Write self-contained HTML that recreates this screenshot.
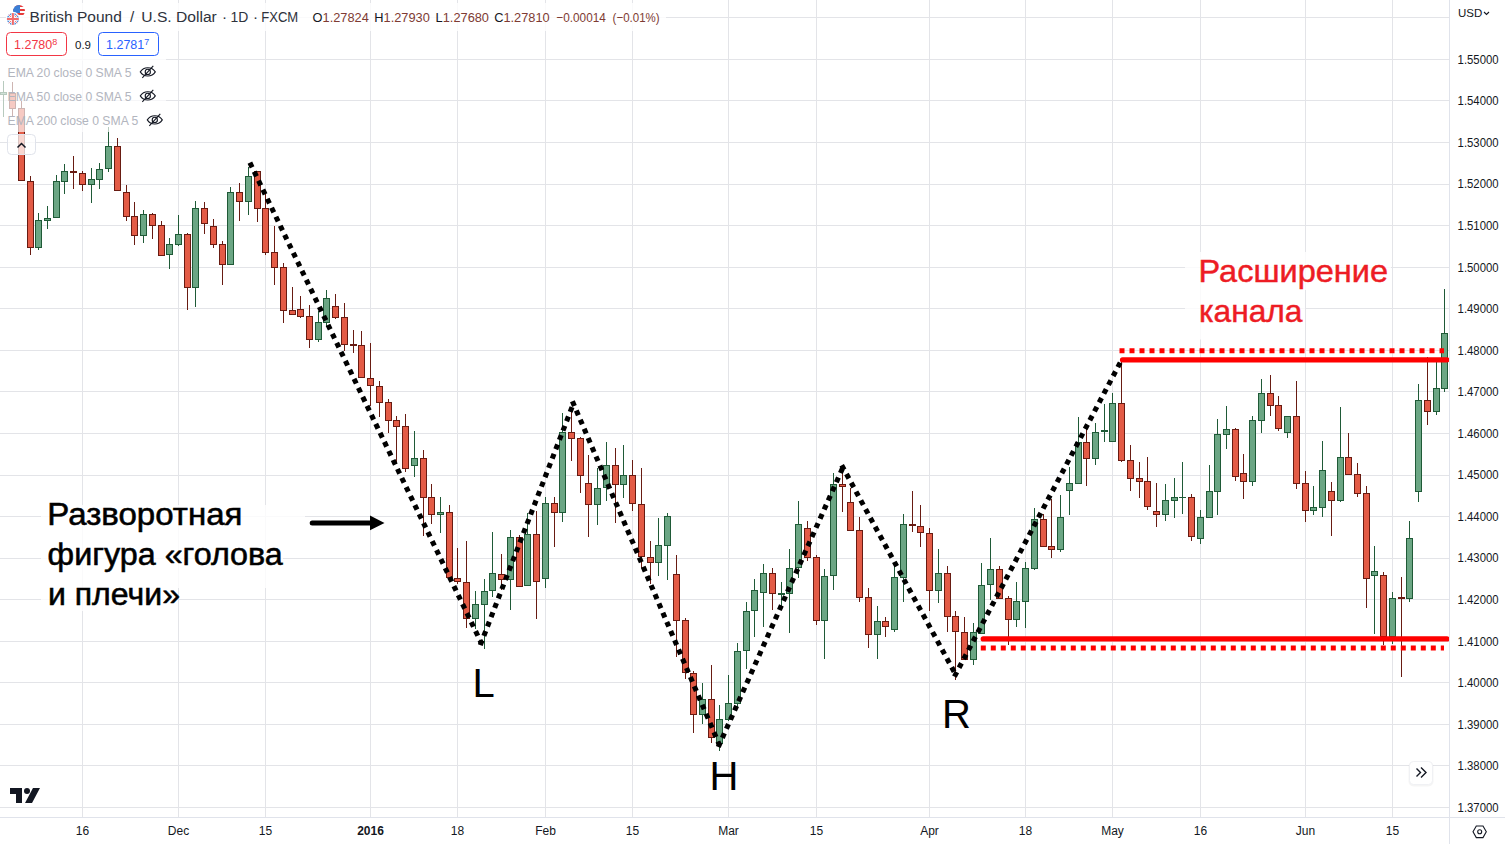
<!DOCTYPE html>
<html><head><meta charset="utf-8">
<style>
html,body{margin:0;padding:0;background:#fff;}
body{width:1505px;height:844px;overflow:hidden;position:relative;font-family:"Liberation Sans",sans-serif;}
svg{position:absolute;left:0;top:0;}
.t{position:absolute;white-space:nowrap;line-height:1;}
</style></head><body>
<svg width="1505" height="844" viewBox="0 0 1505 844" shape-rendering="auto">
<path d="M82.5 0V817.0 M178.5 0V817.0 M265.5 0V817.0 M370.5 0V817.0 M457.5 0V817.0 M545.5 0V817.0 M632.5 0V817.0 M728.5 0V817.0 M816.5 0V817.0 M929.5 0V817.0 M1025.5 0V817.0 M1112.5 0V817.0 M1200.5 0V817.0 M1305.5 0V817.0 M1392.5 0V817.0 M0 17.5H1449.0 M0 59.5H1449.0 M0 100.5H1449.0 M0 142.5H1449.0 M0 184.5H1449.0 M0 225.5H1449.0 M0 267.5H1449.0 M0 308.5H1449.0 M0 350.5H1449.0 M0 391.5H1449.0 M0 433.5H1449.0 M0 475.5H1449.0 M0 516.5H1449.0 M0 558.5H1449.0 M0 599.5H1449.0 M0 641.5H1449.0 M0 682.5H1449.0 M0 724.5H1449.0 M0 765.5H1449.0 M0 807.5H1449.0" stroke="#e3e4e8" stroke-width="1" fill="none"/>
<path d="M3.5 81V117 M38.5 213V250 M47.5 206V229 M56.5 175V218 M64.5 164V194 M91.5 168V203 M99.5 163V189 M108.5 127V172 M143.5 210V243 M169.5 238V269 M178.5 215V246 M195.5 201V307 M230.5 187V265 M248.5 167V215 M318.5 311V342 M326.5 290V327 M414.5 431V477 M440.5 497V533 M475.5 591V629 M484.5 579V649 M492.5 532V597 M510.5 530V610 M527.5 513V586 M545.5 497V588 M562.5 413V522 M597.5 468V525 M606.5 442V501 M623.5 445V498 M658.5 518V576 M667.5 513V580 M702.5 683V724 M719.5 705V751 M728.5 675V721 M737.5 643V709 M746.5 602V669 M754.5 579V637 M763.5 564V627 M781.5 582V606 M789.5 549V633 M798.5 501V578 M824.5 569V659 M833.5 473V590 M877.5 606V659 M894.5 565V632 M903.5 514V602 M938.5 549V603 M973.5 623V665 M981.5 563V634 M990.5 538V600 M1016.5 582V627 M1025.5 562V628 M1034.5 508V570 M1060.5 495V552 M1069.5 467V515 M1078.5 417V484 M1095.5 423V465 M1104.5 404V442 M1112.5 393V442 M1165.5 484V521 M1174.5 478V518 M1182.5 462V514 M1200.5 510V544 M1209.5 465V518 M1217.5 419V515 M1226.5 406V449 M1252.5 416V486 M1261.5 379V433 M1287.5 416V438 M1313.5 486V515 M1322.5 441V517 M1340.5 407V502 M1374.5 546V634 M1392.5 592V644 M1409.5 521V602 M1418.5 384V502 M1436.5 361V415 M1444.5 289V392" stroke="#1f5a37" stroke-width="1" fill="none"/>
<path d="M12.5 82V116 M21.5 101V181 M30.5 176V255 M73.5 156V189 M82.5 171V191 M117.5 138V191 M126.5 185V221 M134.5 202V245 M152.5 213V239 M161.5 221V256 M187.5 233V310 M204.5 202V234 M213.5 219V248 M222.5 241V285 M239.5 183V221 M257.5 171V222 M265.5 192V255 M274.5 226V285 M283.5 263V323 M292.5 287V315 M300.5 296V318 M309.5 305V348 M335.5 294V319 M344.5 303V351 M353.5 330V353 M361.5 331V378 M370.5 343V406 M379.5 381V417 M388.5 399V433 M396.5 416V462 M405.5 414V472 M423.5 450V536 M431.5 484V524 M449.5 505V578 M457.5 548V584 M466.5 541V628 M501.5 554V590 M519.5 535V587 M536.5 511V619 M554.5 497V547 M571.5 407V461 M580.5 437V493 M588.5 455V537 M615.5 448V523 M632.5 460V511 M641.5 468V568 M650.5 541V584 M676.5 555V657 M685.5 618V679 M693.5 671V733 M711.5 665V743 M772.5 568V610 M807.5 521V561 M816.5 555V625 M842.5 471V512 M850.5 488V531 M859.5 517V602 M868.5 588V648 M885.5 617V637 M912.5 491V532 M920.5 505V547 M929.5 528V611 M947.5 566V632 M955.5 611V680 M964.5 617V660 M999.5 566V599 M1008.5 596V645 M1043.5 514V547 M1051.5 499V558 M1086.5 424V486 M1121.5 360V462 M1130.5 445V491 M1139.5 462V498 M1147.5 457V510 M1156.5 483V527 M1191.5 494V541 M1235.5 428V481 M1243.5 454V499 M1270.5 375V416 M1278.5 396V431 M1296.5 381V489 M1305.5 471V522 M1331.5 482V536 M1348.5 433V475 M1357.5 463V497 M1366.5 486V608 M1383.5 572V645 M1401.5 577V677 M1427.5 357V425" stroke="#681b12" stroke-width="1" fill="none"/>
<g fill="#6ba684" stroke="#1f5a37" stroke-width="1"><rect x="0.5" y="92.5" width="6" height="2"/><rect x="35.5" y="220.5" width="6" height="27"/><rect x="44.5" y="218.5" width="6" height="2"/><rect x="53.5" y="181.5" width="6" height="36"/><rect x="61.5" y="171.5" width="6" height="10"/><rect x="88.5" y="179.5" width="6" height="5"/><rect x="96.5" y="169.5" width="6" height="10"/><rect x="105.5" y="146.5" width="6" height="22"/><rect x="140.5" y="214.5" width="6" height="21"/><rect x="166.5" y="244.5" width="6" height="10"/><rect x="175.5" y="234.5" width="6" height="10"/><rect x="192.5" y="208.5" width="6" height="79"/><rect x="227.5" y="192.5" width="6" height="72"/><rect x="245.5" y="176.5" width="6" height="25"/><rect x="315.5" y="322.5" width="6" height="17"/><rect x="323.5" y="298.5" width="6" height="24"/><rect x="411.5" y="458.5" width="6" height="7"/><rect x="437.5" y="512.5" width="6" height="2"/><rect x="472.5" y="604.5" width="6" height="14"/><rect x="481.5" y="591.5" width="6" height="13"/><rect x="489.5" y="573.5" width="6" height="17"/><rect x="507.5" y="537.5" width="6" height="42"/><rect x="524.5" y="534.5" width="6" height="51"/><rect x="542.5" y="503.5" width="6" height="75"/><rect x="559.5" y="432.5" width="6" height="80"/><rect x="594.5" y="488.5" width="6" height="16"/><rect x="603.5" y="465.5" width="6" height="22"/><rect x="620.5" y="475.5" width="6" height="9"/><rect x="655.5" y="545.5" width="6" height="17"/><rect x="664.5" y="516.5" width="6" height="29"/><rect x="699.5" y="699.5" width="6" height="15"/><rect x="716.5" y="719.5" width="6" height="24"/><rect x="725.5" y="703.5" width="6" height="16"/><rect x="734.5" y="651.5" width="6" height="52"/><rect x="743.5" y="611.5" width="6" height="39"/><rect x="751.5" y="590.5" width="6" height="20"/><rect x="760.5" y="573.5" width="6" height="19"/><rect x="786.5" y="568.5" width="6" height="25"/><rect x="795.5" y="524.5" width="6" height="43"/><rect x="821.5" y="576.5" width="6" height="44"/><rect x="830.5" y="484.5" width="6" height="91"/><rect x="874.5" y="621.5" width="6" height="13"/><rect x="891.5" y="577.5" width="6" height="52"/><rect x="900.5" y="524.5" width="6" height="53"/><rect x="935.5" y="573.5" width="6" height="17"/><rect x="970.5" y="632.5" width="6" height="27"/><rect x="978.5" y="585.5" width="6" height="48"/><rect x="987.5" y="569.5" width="6" height="15"/><rect x="1013.5" y="601.5" width="6" height="18"/><rect x="1022.5" y="568.5" width="6" height="33"/><rect x="1031.5" y="519.5" width="6" height="49"/><rect x="1057.5" y="517.5" width="6" height="32"/><rect x="1066.5" y="483.5" width="6" height="7"/><rect x="1075.5" y="442.5" width="6" height="41"/><rect x="1092.5" y="432.5" width="6" height="26"/><rect x="1109.5" y="403.5" width="6" height="38"/><rect x="1162.5" y="500.5" width="6" height="14"/><rect x="1171.5" y="497.5" width="6" height="3"/><rect x="1197.5" y="517.5" width="6" height="21"/><rect x="1206.5" y="491.5" width="6" height="26"/><rect x="1214.5" y="434.5" width="6" height="57"/><rect x="1223.5" y="429.5" width="6" height="5"/><rect x="1249.5" y="420.5" width="6" height="61"/><rect x="1258.5" y="393.5" width="6" height="27"/><rect x="1284.5" y="416.5" width="6" height="16"/><rect x="1310.5" y="507.5" width="6" height="3"/><rect x="1319.5" y="470.5" width="6" height="37"/><rect x="1337.5" y="457.5" width="6" height="43"/><rect x="1371.5" y="571.5" width="6" height="4"/><rect x="1389.5" y="598.5" width="6" height="38"/><rect x="1406.5" y="538.5" width="6" height="60"/><rect x="1415.5" y="400.5" width="6" height="91"/><rect x="1433.5" y="388.5" width="6" height="23"/><rect x="1441.5" y="333.5" width="6" height="55"/></g>
<g fill="#1f5a37"><rect x="778" y="593" width="7" height="2"/><rect x="1101" y="430" width="7" height="2"/><rect x="1179" y="497" width="7" height="1"/></g>
<g fill="#e35b46" stroke="#681b12" stroke-width="1"><rect x="9.5" y="93.5" width="6" height="15"/><rect x="18.5" y="108.5" width="6" height="72"/><rect x="27.5" y="181.5" width="6" height="66"/><rect x="79.5" y="173.5" width="6" height="11"/><rect x="114.5" y="146.5" width="6" height="44"/><rect x="123.5" y="192.5" width="6" height="24"/><rect x="131.5" y="216.5" width="6" height="19"/><rect x="149.5" y="214.5" width="6" height="11"/><rect x="158.5" y="225.5" width="6" height="30"/><rect x="184.5" y="234.5" width="6" height="53"/><rect x="201.5" y="208.5" width="6" height="15"/><rect x="210.5" y="226.5" width="6" height="18"/><rect x="219.5" y="244.5" width="6" height="20"/><rect x="236.5" y="192.5" width="6" height="9"/><rect x="254.5" y="171.5" width="6" height="37"/><rect x="262.5" y="208.5" width="6" height="44"/><rect x="271.5" y="252.5" width="6" height="15"/><rect x="280.5" y="267.5" width="6" height="43"/><rect x="289.5" y="310.5" width="6" height="4"/><rect x="297.5" y="309.5" width="6" height="7"/><rect x="306.5" y="316.5" width="6" height="23"/><rect x="332.5" y="306.5" width="6" height="11"/><rect x="341.5" y="317.5" width="6" height="27"/><rect x="358.5" y="345.5" width="6" height="32"/><rect x="367.5" y="378.5" width="6" height="7"/><rect x="376.5" y="386.5" width="6" height="16"/><rect x="385.5" y="402.5" width="6" height="18"/><rect x="393.5" y="420.5" width="6" height="6"/><rect x="402.5" y="426.5" width="6" height="42"/><rect x="420.5" y="458.5" width="6" height="39"/><rect x="428.5" y="497.5" width="6" height="17"/><rect x="446.5" y="512.5" width="6" height="65"/><rect x="454.5" y="578.5" width="6" height="3"/><rect x="463.5" y="582.5" width="6" height="36"/><rect x="498.5" y="574.5" width="6" height="5"/><rect x="516.5" y="537.5" width="6" height="49"/><rect x="533.5" y="534.5" width="6" height="47"/><rect x="551.5" y="503.5" width="6" height="9"/><rect x="568.5" y="432.5" width="6" height="6"/><rect x="577.5" y="438.5" width="6" height="37"/><rect x="585.5" y="483.5" width="6" height="21"/><rect x="612.5" y="465.5" width="6" height="19"/><rect x="629.5" y="475.5" width="6" height="28"/><rect x="638.5" y="504.5" width="6" height="52"/><rect x="647.5" y="557.5" width="6" height="5"/><rect x="673.5" y="574.5" width="6" height="46"/><rect x="682.5" y="620.5" width="6" height="52"/><rect x="690.5" y="673.5" width="6" height="41"/><rect x="708.5" y="699.5" width="6" height="38"/><rect x="769.5" y="573.5" width="6" height="20"/><rect x="804.5" y="528.5" width="6" height="29"/><rect x="813.5" y="557.5" width="6" height="63"/><rect x="839.5" y="484.5" width="6" height="2"/><rect x="847.5" y="502.5" width="6" height="28"/><rect x="856.5" y="530.5" width="6" height="67"/><rect x="865.5" y="597.5" width="6" height="37"/><rect x="882.5" y="621.5" width="6" height="5"/><rect x="917.5" y="526.5" width="6" height="6"/><rect x="926.5" y="533.5" width="6" height="57"/><rect x="944.5" y="573.5" width="6" height="43"/><rect x="952.5" y="616.5" width="6" height="15"/><rect x="961.5" y="632.5" width="6" height="27"/><rect x="996.5" y="569.5" width="6" height="29"/><rect x="1005.5" y="598.5" width="6" height="21"/><rect x="1040.5" y="519.5" width="6" height="27"/><rect x="1048.5" y="546.5" width="6" height="3"/><rect x="1083.5" y="442.5" width="6" height="16"/><rect x="1118.5" y="403.5" width="6" height="57"/><rect x="1127.5" y="460.5" width="6" height="18"/><rect x="1136.5" y="478.5" width="6" height="3"/><rect x="1144.5" y="481.5" width="6" height="25"/><rect x="1153.5" y="511.5" width="6" height="3"/><rect x="1188.5" y="497.5" width="6" height="39"/><rect x="1232.5" y="429.5" width="6" height="47"/><rect x="1240.5" y="473.5" width="6" height="8"/><rect x="1267.5" y="393.5" width="6" height="12"/><rect x="1275.5" y="405.5" width="6" height="23"/><rect x="1293.5" y="416.5" width="6" height="67"/><rect x="1302.5" y="483.5" width="6" height="27"/><rect x="1328.5" y="491.5" width="6" height="9"/><rect x="1345.5" y="457.5" width="6" height="17"/><rect x="1354.5" y="474.5" width="6" height="19"/><rect x="1363.5" y="493.5" width="6" height="85"/><rect x="1380.5" y="575.5" width="6" height="61"/><rect x="1424.5" y="400.5" width="6" height="11"/></g>
<g fill="#681b12"><rect x="70" y="171" width="7" height="2"/><rect x="350" y="344" width="7" height="2"/><rect x="909" y="524" width="7" height="2"/><rect x="1398" y="597" width="7" height="2"/></g>
<rect x="0" y="61" width="166" height="71" fill="#ffffff" fill-opacity="0.68"/>
<rect x="7.5" y="134.5" width="28" height="20" rx="4" fill="#ffffff" fill-opacity="0.75" stroke="#e0e3eb"/>
<path d="M17.5 147.5 L21.5 143.5 L25.5 147.5" stroke="#131722" stroke-width="1.5" fill="none"/>
<g stroke="#000" stroke-width="5.1" stroke-dasharray="5.1 4.9" fill="none"><line x1="249.89" y1="162.70" x2="481.2" y2="642.8"/><line x1="480.28" y1="645.18" x2="573.4" y2="403.6"/><line x1="572.40" y1="401.26" x2="719.3" y2="744.7"/><line x1="718.26" y1="747.03" x2="842.9" y2="467.5"/><line x1="841.68" y1="465.26" x2="955.6" y2="674.4"/><line x1="954.41" y1="676.65" x2="1121.4" y2="360.4"/></g>
<g stroke="#ff0000" fill="none"><line x1="1119.5" y1="350.8" x2="1444" y2="350.8" stroke-width="5" stroke-dasharray="5 5"/><line x1="980.8" y1="648" x2="1444" y2="648" stroke-width="5" stroke-dasharray="5 5"/><line x1="1122.5" y1="359.8" x2="1447" y2="359.8" stroke-width="5.2" stroke-linecap="round"/><line x1="983.2" y1="638.9" x2="1447" y2="638.9" stroke-width="5.2" stroke-linecap="round"/></g>
<g fill="#fff" fill-opacity="0.8"><path d="M41 505H305V545H283V588H176V611H41Z"/><path d="M1185 252H1391V290H1305V339.5H1185Z"/></g>
<rect x="6" y="3" width="660" height="28" fill="#fff" fill-opacity="0.8"/>
<rect x="0" y="31" width="166" height="30" fill="#fff" fill-opacity="0.8"/>
<defs><clipPath id="us"><circle cx="19" cy="11" r="6"/></clipPath><clipPath id="uk"><circle cx="12.9" cy="19" r="6"/></clipPath></defs>
<g clip-path="url(#us)"><rect x="12" y="4" width="14" height="14" fill="#fff"/><path d="M12 6H26M12 10H26M12 14H26" stroke="#e63a3a" stroke-width="2"/><rect x="12" y="4" width="8" height="9" fill="#3b7fd6"/></g>
<circle cx="12.9" cy="19" r="7.2" fill="#fff"/>
<g clip-path="url(#uk)"><rect x="6" y="12" width="14" height="14" fill="#3b7fd6"/><path d="M6 12L20 26M20 12L6 26" stroke="#fff" stroke-width="2.2"/><path d="M6 12L20 26M20 12L6 26" stroke="#f06a6a" stroke-width="0.9"/><path d="M12.9 12V26M6 19H20" stroke="#fff" stroke-width="3.4"/><path d="M12.9 12V26M6 19H20" stroke="#f06a6a" stroke-width="2"/></g>
<text y="22" font-family="Liberation Sans, sans-serif" font-size="15.2" fill="#2e323c"><tspan x="29.6" textLength="92.2" lengthAdjust="spacingAndGlyphs">British Pound</tspan></text>
<text x="130" y="22" font-family="Liberation Sans, sans-serif" font-size="15.2" fill="#2e323c">/</text>
<text y="22" font-family="Liberation Sans, sans-serif" font-size="15.2" fill="#2e323c"><tspan x="141.3" textLength="75.5" lengthAdjust="spacingAndGlyphs">U.S. Dollar</tspan></text>
<text x="222" y="22" font-family="Liberation Sans, sans-serif" font-size="15.2" fill="#2e323c">·</text>
<text y="22" font-family="Liberation Sans, sans-serif" font-size="15.2" fill="#2e323c"><tspan x="230.6" textLength="17.8" lengthAdjust="spacingAndGlyphs">1D</tspan></text>
<text x="253" y="22" font-family="Liberation Sans, sans-serif" font-size="15.2" fill="#2e323c">·</text>
<text y="22" font-family="Liberation Sans, sans-serif" font-size="15.2" fill="#2e323c"><tspan x="261.2" textLength="37" lengthAdjust="spacingAndGlyphs">FXCM</tspan></text>
<text y="21.5" font-family="Liberation Sans, sans-serif" font-size="12.8"><tspan x="312.6" fill="#131722">O</tspan><tspan fill="#7e3b33">1.27824</tspan><tspan x="374.3" fill="#131722">H</tspan><tspan fill="#7e3b33">1.27930</tspan><tspan x="435.6" fill="#131722">L</tspan><tspan fill="#7e3b33">1.27680</tspan><tspan x="494.2" fill="#131722">C</tspan><tspan fill="#7e3b33">1.27810</tspan></text><text y="21.5" font-family="Liberation Sans, sans-serif" font-size="12.8" fill="#7e3b33"><tspan x="556.3" textLength="49.5" lengthAdjust="spacingAndGlyphs">−0.00014</tspan></text><text y="21.5" font-family="Liberation Sans, sans-serif" font-size="12.8" fill="#7e3b33"><tspan x="612.6" textLength="47" lengthAdjust="spacingAndGlyphs">(−0.01%)</tspan></text>
<rect x="6.5" y="32.5" width="60" height="23" rx="4" fill="#fff" stroke="#f23645"/>
<text x="14" y="49" font-family="Liberation Sans, sans-serif" font-size="12.5" fill="#f23645">1.2780<tspan font-size="9" dy="-4">8</tspan></text>
<text x="75" y="48.5" font-family="Liberation Sans, sans-serif" font-size="11.5" fill="#131722">0.9</text>
<rect x="98.5" y="32.5" width="60" height="23" rx="4" fill="#fff" stroke="#2962ff"/>
<text x="106" y="49" font-family="Liberation Sans, sans-serif" font-size="12.5" fill="#2962ff">1.2781<tspan font-size="9" dy="-4">7</tspan></text>
<text x="7.5" y="76.7" font-family="Liberation Sans, sans-serif" font-size="12.2" fill="#b2b5be">EMA 20 close 0 SMA 5</text>
<g stroke="#131722" stroke-width="1.1" fill="none" transform="translate(147.8,71.9)"><path d="M-7.5 0 C-4 -5.5 4 -5.5 7.5 0 C4 5.5 -4 5.5 -7.5 0Z"/><circle r="2.6"/><path d="M-5.5 6 L5.5 -6"/></g>
<text x="7.5" y="100.7" font-family="Liberation Sans, sans-serif" font-size="12.2" fill="#b2b5be">EMA 50 close 0 SMA 5</text>
<g stroke="#131722" stroke-width="1.1" fill="none" transform="translate(147.8,95.9)"><path d="M-7.5 0 C-4 -5.5 4 -5.5 7.5 0 C4 5.5 -4 5.5 -7.5 0Z"/><circle r="2.6"/><path d="M-5.5 6 L5.5 -6"/></g>
<text x="7.5" y="124.7" font-family="Liberation Sans, sans-serif" font-size="12.2" fill="#b2b5be">EMA 200 close 0 SMA 5</text>
<g stroke="#131722" stroke-width="1.1" fill="none" transform="translate(154.8,119.9)"><path d="M-7.5 0 C-4 -5.5 4 -5.5 7.5 0 C4 5.5 -4 5.5 -7.5 0Z"/><circle r="2.6"/><path d="M-5.5 6 L5.5 -6"/></g>
<text font-family="Liberation Sans, sans-serif" font-size="31" fill="#000" stroke="#000" stroke-width="0.55" transform="translate(47.3 525) scale(1.065 1)">Разворотная</text>
<text font-family="Liberation Sans, sans-serif" font-size="31" fill="#000" stroke="#000" stroke-width="0.55" transform="translate(47.6 564.5) scale(1.042 1)">фигура «голова</text>
<text font-family="Liberation Sans, sans-serif" font-size="31" fill="#000" stroke="#000" stroke-width="0.55" transform="translate(47.9 604.5) scale(1.035 1)">и плечи»</text>
<text font-family="Liberation Sans, sans-serif" font-size="30.5" fill="#ed1c24" stroke="#ed1c24" stroke-width="0.45" transform="translate(1198.5 282) scale(1.066 1)">Расширение</text>
<text font-family="Liberation Sans, sans-serif" font-size="30.5" fill="#ed1c24" stroke="#ed1c24" stroke-width="0.45" transform="translate(1199.0 322.2) scale(1.04 1)">канала</text>
<line x1="312.2" y1="522.9" x2="374" y2="522.9" stroke="#000" stroke-width="5" stroke-linecap="round"/>
<path d="M370 515.6 L384.5 522.9 L370 530.3Z" fill="#000"/>
<text x="472.5" y="696.5" font-family="Liberation Sans, sans-serif" font-size="40" fill="#000">L</text>
<text x="709.5" y="789.5" font-family="Liberation Sans, sans-serif" font-size="40" fill="#000">H</text>
<text x="942" y="727.5" font-family="Liberation Sans, sans-serif" font-size="40" fill="#000">R</text>
<path d="M1449.5 0V844 M0 817.5H1505" stroke="#e0e3eb" stroke-width="1" fill="none"/>
<text x="1458" y="17" font-family="Liberation Sans, sans-serif" font-size="11.5" fill="#131722">USD</text>
<path d="M1484 12 L1486.5 14.5 L1489 12" stroke="#131722" stroke-width="1.1" fill="none"/>
<text x="1457.6" y="63.7" font-family="Liberation Sans, sans-serif" font-size="12" fill="#131722" textLength="41" lengthAdjust="spacingAndGlyphs">1.55000</text>
<text x="1457.6" y="105.3" font-family="Liberation Sans, sans-serif" font-size="12" fill="#131722" textLength="41" lengthAdjust="spacingAndGlyphs">1.54000</text>
<text x="1457.6" y="146.8" font-family="Liberation Sans, sans-serif" font-size="12" fill="#131722" textLength="41" lengthAdjust="spacingAndGlyphs">1.53000</text>
<text x="1457.6" y="188.4" font-family="Liberation Sans, sans-serif" font-size="12" fill="#131722" textLength="41" lengthAdjust="spacingAndGlyphs">1.52000</text>
<text x="1457.6" y="229.9" font-family="Liberation Sans, sans-serif" font-size="12" fill="#131722" textLength="41" lengthAdjust="spacingAndGlyphs">1.51000</text>
<text x="1457.6" y="271.5" font-family="Liberation Sans, sans-serif" font-size="12" fill="#131722" textLength="41" lengthAdjust="spacingAndGlyphs">1.50000</text>
<text x="1457.6" y="313.1" font-family="Liberation Sans, sans-serif" font-size="12" fill="#131722" textLength="41" lengthAdjust="spacingAndGlyphs">1.49000</text>
<text x="1457.6" y="354.6" font-family="Liberation Sans, sans-serif" font-size="12" fill="#131722" textLength="41" lengthAdjust="spacingAndGlyphs">1.48000</text>
<text x="1457.6" y="396.2" font-family="Liberation Sans, sans-serif" font-size="12" fill="#131722" textLength="41" lengthAdjust="spacingAndGlyphs">1.47000</text>
<text x="1457.6" y="437.7" font-family="Liberation Sans, sans-serif" font-size="12" fill="#131722" textLength="41" lengthAdjust="spacingAndGlyphs">1.46000</text>
<text x="1457.6" y="479.3" font-family="Liberation Sans, sans-serif" font-size="12" fill="#131722" textLength="41" lengthAdjust="spacingAndGlyphs">1.45000</text>
<text x="1457.6" y="520.9" font-family="Liberation Sans, sans-serif" font-size="12" fill="#131722" textLength="41" lengthAdjust="spacingAndGlyphs">1.44000</text>
<text x="1457.6" y="562.4" font-family="Liberation Sans, sans-serif" font-size="12" fill="#131722" textLength="41" lengthAdjust="spacingAndGlyphs">1.43000</text>
<text x="1457.6" y="604.0" font-family="Liberation Sans, sans-serif" font-size="12" fill="#131722" textLength="41" lengthAdjust="spacingAndGlyphs">1.42000</text>
<text x="1457.6" y="645.5" font-family="Liberation Sans, sans-serif" font-size="12" fill="#131722" textLength="41" lengthAdjust="spacingAndGlyphs">1.41000</text>
<text x="1457.6" y="687.1" font-family="Liberation Sans, sans-serif" font-size="12" fill="#131722" textLength="41" lengthAdjust="spacingAndGlyphs">1.40000</text>
<text x="1457.6" y="728.7" font-family="Liberation Sans, sans-serif" font-size="12" fill="#131722" textLength="41" lengthAdjust="spacingAndGlyphs">1.39000</text>
<text x="1457.6" y="770.2" font-family="Liberation Sans, sans-serif" font-size="12" fill="#131722" textLength="41" lengthAdjust="spacingAndGlyphs">1.38000</text>
<text x="1457.6" y="811.8" font-family="Liberation Sans, sans-serif" font-size="12" fill="#131722" textLength="41" lengthAdjust="spacingAndGlyphs">1.37000</text>
<text x="82.5" y="835" text-anchor="middle" font-family="Liberation Sans, sans-serif" font-size="12" fill="#131722">16</text>
<text x="178.5" y="835" text-anchor="middle" font-family="Liberation Sans, sans-serif" font-size="12" fill="#131722">Dec</text>
<text x="265.5" y="835" text-anchor="middle" font-family="Liberation Sans, sans-serif" font-size="12" fill="#131722">15</text>
<text x="370.5" y="835" text-anchor="middle" font-family="Liberation Sans, sans-serif" font-size="12" font-weight="bold" fill="#131722">2016</text>
<text x="457.5" y="835" text-anchor="middle" font-family="Liberation Sans, sans-serif" font-size="12" fill="#131722">18</text>
<text x="545.5" y="835" text-anchor="middle" font-family="Liberation Sans, sans-serif" font-size="12" fill="#131722">Feb</text>
<text x="632.5" y="835" text-anchor="middle" font-family="Liberation Sans, sans-serif" font-size="12" fill="#131722">15</text>
<text x="728.5" y="835" text-anchor="middle" font-family="Liberation Sans, sans-serif" font-size="12" fill="#131722">Mar</text>
<text x="816.5" y="835" text-anchor="middle" font-family="Liberation Sans, sans-serif" font-size="12" fill="#131722">15</text>
<text x="929.5" y="835" text-anchor="middle" font-family="Liberation Sans, sans-serif" font-size="12" fill="#131722">Apr</text>
<text x="1025.5" y="835" text-anchor="middle" font-family="Liberation Sans, sans-serif" font-size="12" fill="#131722">18</text>
<text x="1112.5" y="835" text-anchor="middle" font-family="Liberation Sans, sans-serif" font-size="12" fill="#131722">May</text>
<text x="1200.5" y="835" text-anchor="middle" font-family="Liberation Sans, sans-serif" font-size="12" fill="#131722">16</text>
<text x="1305.5" y="835" text-anchor="middle" font-family="Liberation Sans, sans-serif" font-size="12" fill="#131722">Jun</text>
<text x="1392.5" y="835" text-anchor="middle" font-family="Liberation Sans, sans-serif" font-size="12" fill="#131722">15</text>
<g fill="#131722"><path d="M10 788H22V803H16V794H10Z"/><circle cx="27" cy="791" r="3"/><path d="M33 788H40L32 803H25Z"/></g>
<rect x="1408.5" y="761.5" width="25" height="25" rx="5" fill="#000" fill-opacity="0.04"/>
<rect x="1409.5" y="761.5" width="23" height="23" rx="4" fill="#fff" stroke="#f0f1f4"/>
<path d="M1416.5 768.5 L1420.5 772.5 L1416.5 776.5 M1421 767.5 L1426 772.5 L1421 777.5" stroke="#131722" stroke-width="1.4" fill="none"/>
<g stroke="#131722" stroke-width="1.1" fill="none"><path d="M1473 831.8 L1476.3 826 L1483 826 L1486.3 831.8 L1483 837.6 L1476.3 837.6Z"/><circle cx="1479.7" cy="831.8" r="2"/></g>
</svg>
</body></html>
